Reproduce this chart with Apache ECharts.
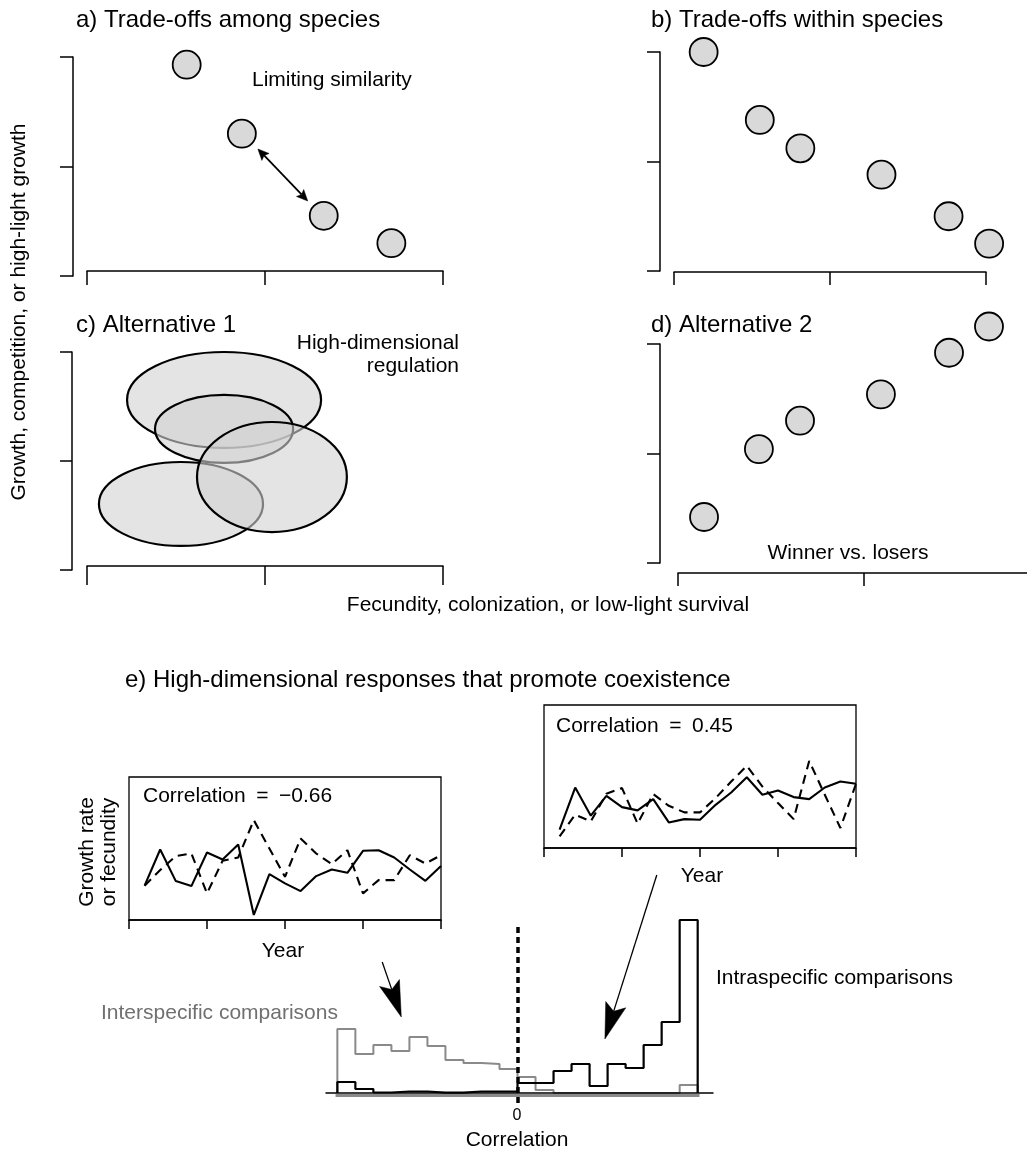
<!DOCTYPE html>
<html><head><meta charset="utf-8">
<script src="https://cdn.jsdelivr.net/npm/echarts@6/dist/echarts.min.js"></script>
<style>html,body{margin:0;padding:0;background:#fff}#c{width:1027px;height:1149px}</style>
</head><body><div id="c"></div>
<script>
// ---------- DATA ----------
// Panel a: trade-offs among species
const aX = [0.56, 0.87, 1.33, 1.71];
const aY = [1.93, 1.30, 0.55, 0.30];
const aArrow = [[0.96, 1.16, 1.24, 0.685, 1]];          // x1,y1,x2,y2,double-headed
// Panel b: trade-offs within species
const bX = [0.19, 0.55, 0.81, 1.33, 1.76, 2.02];
const bY = [2.00, 1.38, 1.12, 0.88, 0.50, 0.25];
// Panel c: ellipses [cx, cy, rx, ry]
const cEllipses = [
  [0.770, 1.560, 0.545, 0.440],
  [0.770, 1.294, 0.388, 0.312],
  [0.528, 0.606, 0.461, 0.385],
  [1.039, 0.853, 0.421, 0.505]
];
// Panel d: alternative 2
const dX = [0.14, 0.435, 0.656, 1.091, 1.457, 1.672];
const dY = [0.42, 1.04, 1.30, 1.54, 1.92, 2.16];
// Panel e insets
const years = [1,2,3,4,5,6,7,8,9,10,11,12,13,14,15,16,17,18,19,20];
const leftSolid  = [2.40,4.93,2.72,2.37,4.72,4.23,5.28,0.35,3.21,2.56,2.02,3.07,3.53,3.30,4.84,4.88,4.37,3.53,2.74,3.77];
const leftDashed = [2.40,3.49,4.47,4.65,1.86,4.14,4.37,6.98,5.00,3.02,5.70,4.65,3.91,4.88,1.86,2.79,2.79,4.53,3.95,4.53];
const rightSolid  = [1.28,4.23,2.26,3.65,2.86,2.63,3.42,1.79,2.02,1.98,3.02,3.88,4.95,3.72,4.02,3.56,3.42,4.23,4.65,4.49];
const rightDashed = [0.81,2.33,1.86,3.79,4.19,1.70,3.77,2.95,2.49,2.49,3.49,4.65,5.74,4.30,3.14,2.02,6.09,3.72,1.40,4.49];
// Panel e histogram (bin left edges, width 0.1)
const corrBins = [-1.0,-0.9,-0.8,-0.7,-0.6,-0.5,-0.4,-0.3,-0.2,-0.1,0.0,0.1,0.2,0.3,0.4,0.5,0.6,0.7,0.8,0.9];
const binWidth = 0.1;
const interCounts = [64,39,48,42,56,47,33,30,29,24,16,3,0,0,0,0,0,0,0,8];
const intraCounts = [11,4,0.5,1.5,1.5,0.3,0.3,1.5,1.5,1.5,10,10,22,29,7,29,25,48,71,173];
const eArrows = [[-0.751, 131, -0.645, 76, 0], [0.773, 218, 0.485, 54, 0]];

// ---------- HELPERS ----------
const FONT = '"Liberation Sans", Arial, Helvetica, sans-serif';
function txt(text, x, y, size, o) {
  o = o || {};
  const al = o.align || 'left';
  return {type:'text', x:x, y:y, rotation:o.rot || 0, silent:true, z:10,
    style:{text:text, font:size + 'px ' + FONT, fill:o.color || '#000',
      textAlign:al, textVerticalAlign:'middle', align:al, verticalAlign:'middle'}};
}
const LINE = {color:'#000', width:1.5};
function xAx(g, min, max, interval, offset, tickLen) {
  return {gridIndex:g, type:'value', min:min, max:max, interval:interval, position:'bottom', offset:offset,
    axisLine:{show:true, onZero:false, lineStyle:LINE},
    axisTick:{show:true, inside:false, length:tickLen, lineStyle:LINE},
    axisLabel:{show:false}, splitLine:{show:false}};
}
function yAx(g, min, max, interval, offset, tickLen, show) {
  return {gridIndex:g, type:'value', min:min, max:max, interval:interval, position:'left', offset:offset, show:show,
    axisLine:{show:true, onZero:false, lineStyle:LINE},
    axisTick:{show:true, inside:false, length:tickLen, lineStyle:LINE},
    axisLabel:{show:false}, splitLine:{show:false}};
}
function zip(xs, ys) { return xs.map((x, i) => [x, ys[i]]); }
function scatter(g, xs, ys) {
  return {type:'scatter', xAxisIndex:g, yAxisIndex:g, data:zip(xs, ys), symbolSize:28, clip:false,
    itemStyle:{color:'#d9d9d9', borderColor:'#000', borderWidth:1.8, opacity:1}, z:3};
}
function arrowRender(len, hw, notch, lw) {
  return function (params, api) {
    const p1 = api.coord([api.value(0), api.value(1)]);
    const p2 = api.coord([api.value(2), api.value(3)]);
    const both = api.value(4) === 1;
    const dx = p2[0] - p1[0], dy = p2[1] - p1[1];
    const L = Math.hypot(dx, dy), ux = dx / L, uy = dy / L, nx = -uy, ny = ux;
    function head(tip, sx, sy) {
      const bx = tip[0] - sx * len, by = tip[1] - sy * len;
      const kx = tip[0] - sx * (len - notch), ky = tip[1] - sy * (len - notch);
      return {type:'polygon', shape:{points:[[tip[0], tip[1]], [bx + nx * hw, by + ny * hw], [kx, ky], [bx - nx * hw, by - ny * hw]]},
        style:{fill:'#000', stroke:'#000', lineWidth:0.5}};
    }
    const back = len - notch;
    const s = both ? [p1[0] + ux * back, p1[1] + uy * back] : p1;
    const e = [p2[0] - ux * back, p2[1] - uy * back];
    const ch = [{type:'line', shape:{x1:s[0], y1:s[1], x2:e[0], y2:e[1]}, style:{stroke:'#000', lineWidth:lw}}, head(p2, ux, uy)];
    if (both) ch.push(head(p1, -ux, -uy));
    return {type:'group', children:ch};
  };
}
function histOutline(counts) {
  const pts = [[corrBins[0], 0]];
  counts.forEach((c, i) => { pts.push([corrBins[i], c]); pts.push([corrBins[i] + binWidth, c]); });
  pts.push([corrBins[corrBins.length - 1] + binWidth, 0]);
  return pts;
}
function insetLine(g, ys, dashed) {
  return {type:'line', xAxisIndex:g, yAxisIndex:g, data:zip(years, ys), showSymbol:false, symbol:'none',
    lineStyle:{color:'#000', width:2.1, type:dashed ? [9, 6] : 'solid'}, z:3};
}

// ---------- OPTION ----------
const gridBase = {containLabel:false, outerBoundsMode:'none'};
const boxed = {show:true, borderColor:'#000', borderWidth:1.3, backgroundColor:'transparent'};
const grids = [
  {left:87, top:57, width:356, height:219},
  {left:674, top:52, width:312, height:219},
  {left:87, top:352, width:356, height:218},
  {left:678, top:344, width:372, height:219},
  Object.assign({left:129, top:777, width:312, height:143}, boxed),
  Object.assign({left:544, top:705, width:312, height:143}, boxed),
  {left:326, top:913, width:387, height:192}
].map(g => Object.assign({}, gridBase, g));

const xAxes = [
  xAx(0, 0, 2, 1, -5, 14),
  xAx(1, 0, 2, 1, 1, 13),
  xAx(2, 0, 2, 1, -4, 19),
  xAx(3, 0, 2, 1, 10, 13),
  xAx(4, 0, 20, 5, 0, 9),
  xAx(5, 0, 20, 5, 0, 9),
  Object.assign(xAx(6, -1.063, 1.085, null, -12, 5), {axisTick:{show:false}, z:6})
];
delete xAxes[6].interval;
const yAxes = [
  yAx(0, 0, 2, 1, 14, 13, true),
  yAx(1, 0, 2, 1, 14, 13, true),
  yAx(2, 0, 2, 1, 15, 12, true),
  yAx(3, 0, 2, 1, 18, 13, true),
  yAx(4, 0, 10, 5, 0, 0, false),
  yAx(5, 0, 10, 5, 0, 0, false),
  yAx(6, -12, 180, null, 0, 0, false)
];
delete yAxes[6].interval;

const series = [
  scatter(0, aX, aY),
  {type:'custom', xAxisIndex:0, yAxisIndex:0, data:aArrow, clip:false, z:4, renderItem:arrowRender(11, 5, 2, 1.8)},
  scatter(1, bX, bY),
  {type:'custom', xAxisIndex:2, yAxisIndex:2, data:cEllipses, clip:false, z:3,
    renderItem:function (params, api) {
      const c = api.coord([api.value(0), api.value(1)]);
      const s = api.size([api.value(2), api.value(3)]);
      return {type:'ellipse', shape:{cx:c[0], cy:c[1], rx:s[0], ry:s[1]},
        style:{fill:'rgba(210,210,210,0.6)', stroke:'#000', lineWidth:2.2}};
    }},
  scatter(3, dX, dY),
  insetLine(4, leftSolid, false),
  insetLine(4, leftDashed, true),
  insetLine(5, rightSolid, false),
  insetLine(5, rightDashed, true),
  {type:'line', xAxisIndex:6, yAxisIndex:6, data:histOutline(interCounts), showSymbol:false, symbol:'none', clip:false, z:3,
    lineStyle:{color:'#8a8a8a', width:2},
    markLine:{silent:true, symbol:'none', label:{show:false}, z:2,
      lineStyle:{color:'#8a8a8a', width:3, type:'solid'},
      data:[[{coord:[corrBins[0] - 0.01, -2.5]}, {coord:[corrBins[corrBins.length - 1] + binWidth + 0.01, -2.5]}]]}},
  {type:'line', xAxisIndex:6, yAxisIndex:6, data:histOutline(intraCounts), showSymbol:false, symbol:'none', clip:false, z:4,
    lineStyle:{color:'#000', width:2.2},
    markLine:{silent:true, symbol:'none', label:{show:false}, z:7,
      lineStyle:{color:'#000', width:3.5, type:[6, 4], opacity:1},
      data:[[{coord:[0, -10]}, {coord:[0, 168]}]]}},
  {type:'custom', xAxisIndex:6, yAxisIndex:6, data:eArrows, clip:false, z:8, renderItem:arrowRender(36, 10.5, 7, 1.3)}
];

const graphics = [
  txt('a) Trade-offs among species', 76, 20, 24),
  txt('b) Trade-offs within species', 651, 20, 24),
  txt('c) Alternative 1', 76, 325, 24),
  txt('d) Alternative 2', 651, 325, 24),
  txt('Limiting similarity', 252, 80, 21),
  txt('High-dimensional', 459, 343, 21, {align:'right'}),
  txt('regulation', 459, 366, 21, {align:'right'}),
  txt('Winner vs. losers', 848, 553, 21, {align:'center'}),
  txt('Fecundity, colonization, or low-light survival', 548, 605, 21, {align:'center'}),
  txt('Growth, competition, or high-light growth', 19, 312, 21, {align:'center', rot:Math.PI / 2}),
  txt('e) High-dimensional responses that promote coexistence', 125, 680, 24),
  txt('Correlation\u2002=\u2002\u22120.66', 143, 796, 21),
  txt('Correlation\u2002=\u20020.45', 556, 726, 21),
  txt('Growth rate', 87, 852, 21, {align:'center', rot:Math.PI / 2}),
  txt('or fecundity', 109, 852, 21, {align:'center', rot:Math.PI / 2}),
  txt('Year', 283, 951, 21, {align:'center'}),
  txt('Year', 702, 876, 21, {align:'center'}),
  txt('Interspecific comparisons', 101, 1013, 21, {color:'#707070'}),
  txt('Intraspecific comparisons', 716, 978, 21),
  txt('0', 517, 1116, 16, {align:'center'}),
  txt('Correlation', 517, 1140, 21, {align:'center'})
];

const chart = echarts.init(document.getElementById('c'), null, {renderer:'canvas'});
chart.setOption({
  animation:false,
  backgroundColor:'#fff',
  textStyle:{fontFamily:FONT},
  grid:grids, xAxis:xAxes, yAxis:yAxes, series:series, graphic:graphics
});
</script></body></html>
